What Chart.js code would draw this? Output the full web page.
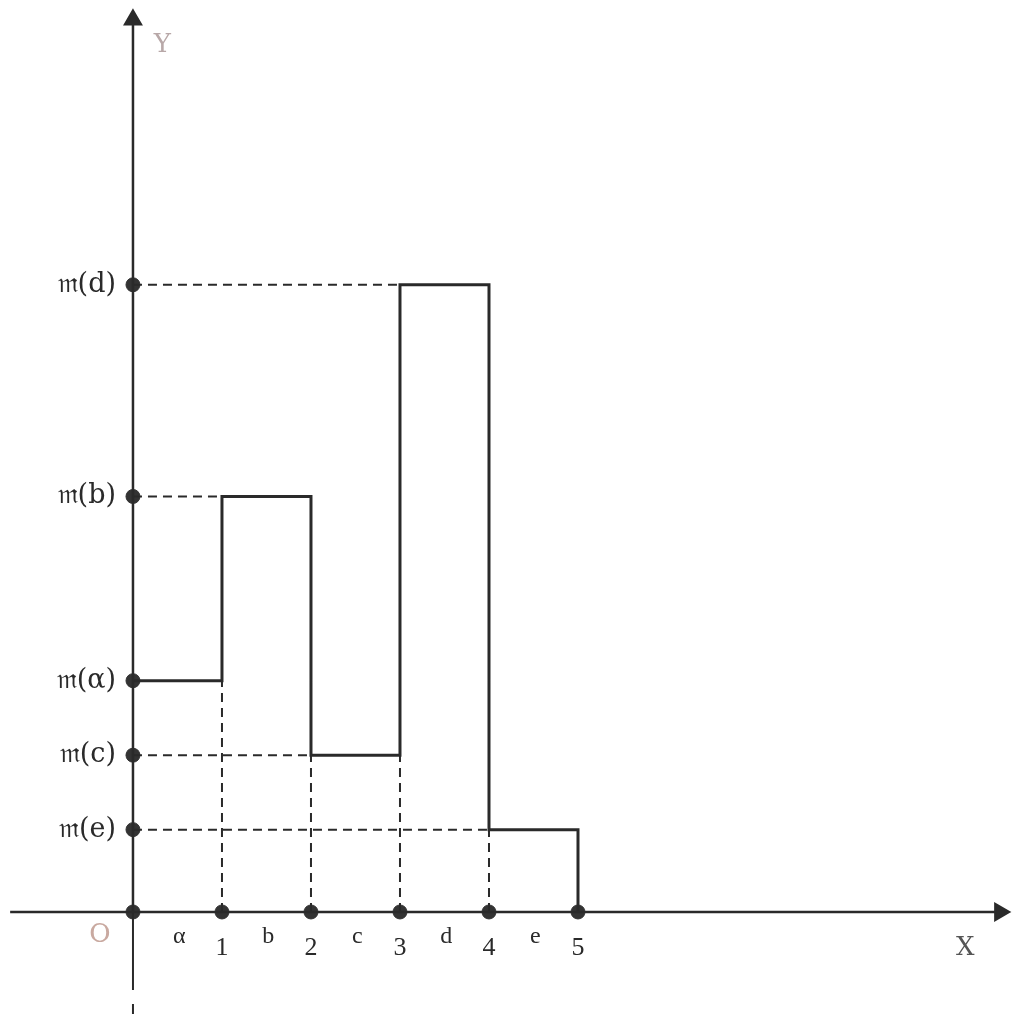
<!DOCTYPE html>
<html>
<head>
<meta charset="utf-8">
<script src="https://cdn.jsdelivr.net/npm/chart.js@4.4.0/dist/chart.umd.min.js"></script>
<style>
  html, body { margin: 0; padding: 0; background: #fff; }
  #wrap { width: 1024px; height: 1024px; }
</style>
</head>
<body>
<div id="wrap"><canvas id="chart"></canvas></div>
<script>
// step heights for the intervals a..e
const intervals = ["α", "b", "c", "d", "e"];
const stepX = [0, 1, 2, 3, 4, 5];
const stepY = [2.95, 5.3, 2, 8, 1.05];
// y ticks shown on the vertical axis
const yTickValues = [1.05, 2, 2.95, 5.3, 8];
const yTickLabels = ["𝔪(e)", "𝔪(c)", "𝔪(α)", "𝔪(b)", "𝔪(d)"];
const xTickValues = [1, 2, 3, 4, 5];
const xTickLabels = ["1", "2", "3", "4", "5"];

const INK = "#2a2a2a";
const X_MIN = -1.494, X_MAX = 10.011;
const Y_MIN = -1.429, Y_MAX = 11.633;

// solid step line, last point drops back to the axis
const stepData = stepX.map((x, i) => ({ x: x, y: i < stepY.length ? stepY[i] : 0 }));

// dashed helper lines: horizontal from the y axis, vertical from the x axis
const hDash = [[8, 3], [5.3, 1], [2, 2], [1.05, 4]];
const vDash = [[1, 2.95], [2, 2], [3, 2], [4, 1.05]];
const dashSets = [];
hDash.forEach(([y, x]) => dashSets.push({ data: [{ x: 0, y: y }, { x: x, y: y }] }));
vDash.forEach(([x, y]) => dashSets.push({ data: [{ x: x, y: 0 }, { x: x, y: y }] }));

const dotPoints = yTickValues.map(v => ({ x: 0, y: v }))
  .concat(stepX.map(x => ({ x: x, y: 0 })));

// tick labels, axis titles, origin mark and interval letters
const axisText = {
  id: "axisText",
  afterDraw(chart) {
    const { ctx, scales: { x, y } } = chart;
    const x0 = x.getPixelForValue(0), y0 = y.getPixelForValue(0);
    ctx.save();
    ctx.textBaseline = "middle";
    ctx.fillStyle = INK;

    // y tick labels, right aligned left of the axis
    ctx.font = "27px 'DejaVu Serif', serif";
    ctx.textAlign = "right";
    yTickValues.forEach((v, i) => ctx.fillText(yTickLabels[i], x0 - 17, y.getPixelForValue(v)));

    // x tick numbers and interval letters
    ctx.textAlign = "center";
    ctx.font = "26px 'Liberation Serif', serif";
    xTickValues.forEach((v, i) => ctx.fillText(xTickLabels[i], x.getPixelForValue(v), y0 + 36));
    ctx.font = "24px 'Liberation Serif', serif";
    intervals.forEach((t, i) => ctx.fillText(t, x.getPixelForValue(stepX[i] + 0.52), y0 + 25));

    ctx.font = "26px 'DejaVu Serif', serif";
    ctx.fillStyle = "#555";
    ctx.fillText("X", x.getPixelForValue(9.35), y0 + 36);
    ctx.fillStyle = "#b8a8a8";
    ctx.fillText("Y", x.getPixelForValue(0.33), y.getPixelForValue(11.05));
    ctx.fillStyle = "#c9a9a0";
    ctx.fillText("O", x0 - 33, y0 + 23);
    ctx.restore();
  }
};

new Chart(document.getElementById("chart"), {
  type: "scatter",
  data: {
    datasets: [
      // x axis with arrow
      { data: [{ x: -1.38, y: 0 }, { x: 9.74, y: 0 }], showLine: true, borderColor: INK, borderWidth: 2.5,
        pointStyle: "triangle", pointRadius: [0, 9], rotation: 90, backgroundColor: INK, pointBorderColor: INK },
      // y axis with arrow
      { data: [{ x: 0, y: 0 }, { x: 0, y: 11.38 }], showLine: true, borderColor: INK, borderWidth: 2.5,
        pointStyle: "triangle", pointRadius: [0, 9], backgroundColor: INK, pointBorderColor: INK },
      // y axis below origin, broken
      { data: [{ x: 0, y: 0 }, { x: 0, y: -1.33 }], showLine: true, borderColor: INK, borderWidth: 2,
        borderDash: [78, 14, 10, 300], pointRadius: 0 },
      // step function
      { data: stepData, showLine: true, stepped: "before", borderColor: INK, borderWidth: 3, pointRadius: 0 },
      ...dashSets.map(d => Object.assign(d, { showLine: true, borderColor: INK, borderWidth: 2,
        borderDash: [9, 6], pointRadius: 0 })),
      // dots on the axes
      { data: dotPoints, pointRadius: 7, backgroundColor: "#333", borderColor: "#333", showLine: false }
    ]
  },
  options: {
    responsive: true,
    maintainAspectRatio: false,
    animation: false,
    clip: false,
    layout: { padding: 0, autoPadding: false },
    plugins: { legend: { display: false }, tooltip: { enabled: false } },
    scales: {
      x: { type: "linear", min: X_MIN, max: X_MAX, display: false },
      y: { type: "linear", min: Y_MIN, max: Y_MAX, display: false }
    }
  },
  plugins: [axisText]
});
</script>
</body>
</html>
